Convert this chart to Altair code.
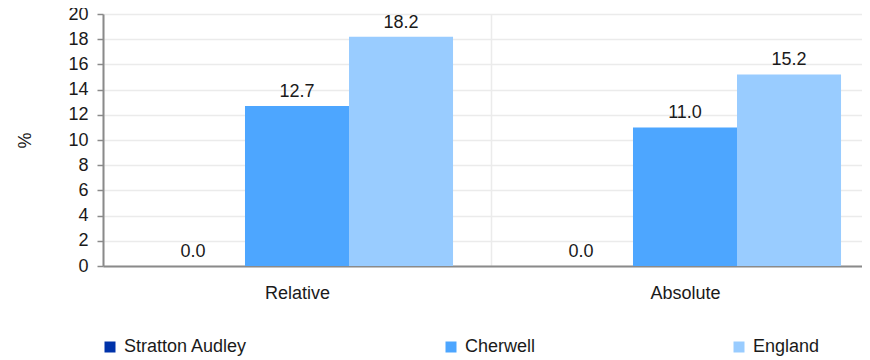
import altair as alt
import pandas as pd

groups = ["Relative", "Absolute"]
areas = ["Stratton Audley", "Cherwell", "England"]
relative = [0.0, 12.7, 18.2]
absolute = [0.0, 11.0, 15.2]
colors = ["#0033aa", "#4da6ff", "#99ccff"]
y_ticks = list(range(0, 21, 2))

rows = []
for g, vals in zip(groups, [relative, absolute]):
    for a, v in zip(areas, vals):
        rows.append({"group": g, "area": a, "value": v, "label": f"{v:.1f}"})
df = pd.DataFrame(rows)

FONT = "Liberation Sans"
TXT = "#1a1a1a"
FS = 18

x = alt.X(
    "group:N", sort=groups, title=None,
    scale=alt.Scale(range=[0, 776], paddingInner=0, paddingOuter=0),
    axis=alt.Axis(grid=True, tickBand="extent", ticks=False, labelPadding=18,
                  labelAngle=0, labelFontSize=FS, labelColor=TXT, labelFont=FONT,
                  gridColor="#ebebeb", gridWidth=1.5,
                  domainColor="#8a8a8a", domainWidth=2),
)
xo = alt.XOffset("area:N", sort=areas,
                 scale=alt.Scale(paddingOuter=0.365, paddingInner=0))
y = alt.Y(
    "value:Q", scale=alt.Scale(domain=[0, 20], nice=False),
    axis=alt.Axis(values=y_ticks, title="%", titlePadding=33, titleFontSize=FS,
                  titleFontWeight="normal", titleColor=TXT, titleFont=FONT,
                  labelFontSize=FS, labelColor=TXT, labelFont=FONT, labelPadding=9,
                  tickSize=6, tickColor="#8a8a8a", tickWidth=1.5,
                  gridColor="#ebebeb", gridWidth=1.5,
                  domainColor="#8a8a8a", domainWidth=2),
)

base = alt.Chart(df)

bars = base.mark_bar().encode(
    x=x, xOffset=xo, y=y,
    color=alt.Color(
        "area:N", sort=areas,
        scale=alt.Scale(domain=areas, range=colors),
        legend=alt.Legend(orient="none", legendX=-2, legendY=324, direction="horizontal",
                          columns=3, gridAlign="none", columnPadding=194,
                          symbolType="square", symbolSize=121, symbolStrokeWidth=0,
                          labelFontSize=FS, labelColor=TXT, labelFont=FONT,
                          labelOffset=5, title=None),
    ),
)

labels = base.mark_text(dy=-5, baseline="bottom", fontSize=FS, color=TXT, font=FONT).encode(
    x=x, xOffset=xo, y=y, text="label:N"
)

chart = alt.layer(bars, labels).properties(
    width=759, height=252,
    autosize=alt.AutoSizeParams(type="none"),
    padding={"left": 95, "top": 6, "right": 0, "bottom": 94},
).configure_view(stroke=None)

chart.save("out.html", embed_options={"renderer": "svg", "actions": False})
